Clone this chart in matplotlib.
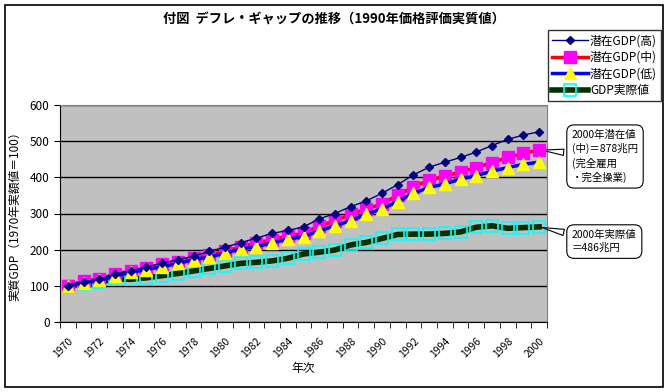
import matplotlib
matplotlib.use("Agg")
import matplotlib.pyplot as plt
from matplotlib.patches import Rectangle

plt.rcParams['font.family'] = ['Noto Sans CJK JP', 'DejaVu Sans']

years = list(range(1970, 2001))
gdp_high = [100, 110, 118, 133, 142, 152, 163, 172, 182, 195, 207, 219, 232, 245, 253,
            263, 285, 300, 319, 335, 356, 380, 407, 428, 442, 455, 470, 488, 505, 517, 526]
gdp_mid = [100, 113, 119, 133, 141, 149, 159, 166, 177, 185, 195, 208, 219, 227, 238,
           245, 266, 279, 298, 312, 327, 350, 374, 392, 403, 415, 427, 441, 455, 466, 476]
gdp_low = [100, 109, 115, 127, 137, 145, 153, 162, 172, 180, 190, 202, 208, 219, 229,
           236, 252, 266, 280, 298, 313, 333, 356, 372, 382, 395, 405, 417, 427, 436, 442]
gdp_actual = [100, 105, 110, 119, 118, 122, 128, 134, 141, 148, 155, 162, 165, 169, 176,
              188, 193, 199, 213, 220, 231, 242, 243, 243, 245, 249, 262, 266, 259, 261, 263]

labels = ['潜在GDP(高)', '潜在GDP(中)', '潜在GDP(低)', 'GDP実際値']

W, H = 668, 392
fig = plt.figure(figsize=(W / 100, H / 100), dpi=100)
fig.patch.set_facecolor('white')
fig.patches.append(Rectangle((5 / W, 1 - 387 / H), 658 / W, 382 / H, transform=fig.transFigure,
                             fill=False, ec='black', lw=1.2))

ax = fig.add_axes([60 / W, 1 - 322 / H, 487 / W, 217 / H])
ax.set_facecolor('#C0C0C0')
x = list(range(len(years)))

ax.plot(x, gdp_high, color='#000080', lw=1, marker='D', ms=4, mfc='#000080', mec='#000080',
        label=labels[0], zorder=5)
ax.plot(x, gdp_mid, color='#FF0000', lw=2.5, marker='s', ms=8.5, mfc='#FF00FF', mec='#FF00FF',
        label=labels[1], zorder=4)
ax.plot(x, gdp_low, color='#0000FF', lw=2.5, marker='^', ms=9, mfc='#FFFF00', mec='#FFFF00',
        label=labels[2], zorder=4)
ax.plot(x, gdp_actual, color='#003300', lw=4, marker='s', ms=8.5, mfc='none', mec='#00FFFF',
        mew=1.2, label=labels[3], zorder=3)

ax.set_xlim(-0.5, len(years) - 0.5)
ax.set_ylim(0, 600)
ax.set_yticks(range(0, 601, 100))
ax.yaxis.grid(True, color='black', lw=1)
ax.set_axisbelow(True)
for s in ['top', 'right']:
    ax.spines[s].set_color('#808080')
for s in ['left', 'bottom']:
    ax.spines[s].set_color('black')

ax.set_xticks(x[::2])
ax.set_xticklabels([str(y) for y in years[::2]], rotation=45, ha='right',
                   rotation_mode='anchor', fontsize=7.5)
ax.tick_params(axis='x', which='major', length=0, pad=10)
for lab in ax.get_xticklabels():
    lab.set_x(lab.get_position()[0])
ax.set_xticks([i - 0.5 for i in range(len(years) + 1)], minor=True)
ax.tick_params(axis='x', which='minor', length=4, direction='out')
ax.tick_params(axis='y', labelsize=8.5, length=4, direction='out')

ax.set_xlabel('年次', fontsize=8.5, labelpad=2)
ax.set_ylabel('実質GDP（1970年実額値＝100）', fontsize=8.5, labelpad=6)

fig.text(0.5, 1 - 19 / H, '付図  デフレ・ギャップの推移（1990年価格評価実質値）',
         ha='center', va='center', fontsize=9.5, fontweight='bold')

leg = fig.legend(loc='upper left', bbox_to_anchor=(548 / W, 1 - 30 / H), fontsize=8.5,
                 frameon=True, fancybox=False, edgecolor='black', borderpad=0.35,
                 labelspacing=0.3, handlelength=3.0, handletextpad=0.2, borderaxespad=0)
leg.get_frame().set_linewidth(1)

box = dict(boxstyle='round,pad=0.5,rounding_size=0.7', fc='white', ec='black', lw=0.8)
ax.annotate('2000年潜在値\n(中)＝878兆円\n(完全雇用\n・完全操業)',
            xy=(30, gdp_mid[-1]), xycoords='data',
            xytext=(572 / W, 1 - 130 / H), textcoords='figure fraction',
            ha='left', va='top', fontsize=7.5, linespacing=1.35, bbox=box,
            arrowprops=dict(arrowstyle='wedge,tail_width=0.6', fc='white', ec='black', lw=0.8),
            annotation_clip=False)
ax.annotate('2000年実際値\n＝486兆円',
            xy=(30, gdp_actual[-1]), xycoords='data',
            xytext=(572 / W, 1 - 230 / H), textcoords='figure fraction',
            ha='left', va='top', fontsize=7.5, linespacing=1.35, bbox=box,
            arrowprops=dict(arrowstyle='wedge,tail_width=0.6', fc='white', ec='black', lw=0.8),
            annotation_clip=False)

fig.savefig('out.png', dpi=100)
